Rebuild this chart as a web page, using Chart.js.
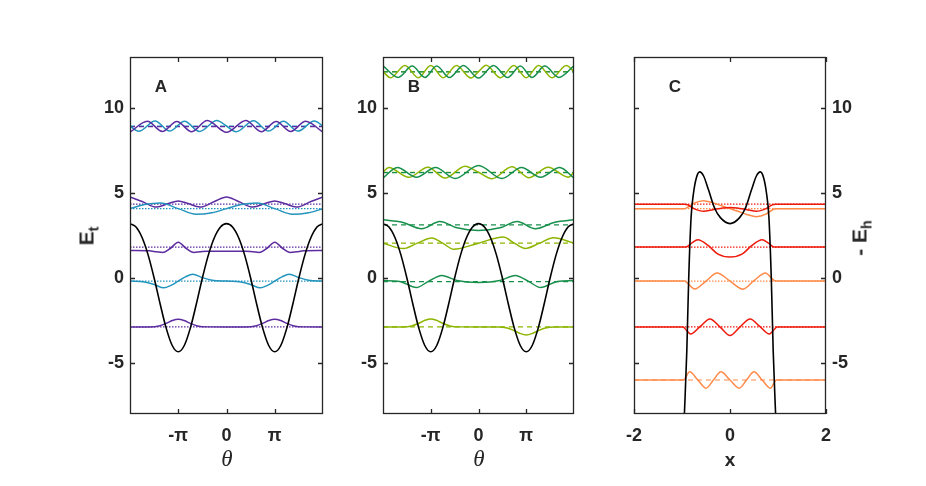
<!DOCTYPE html>
<html>
<head>
<meta charset="utf-8">
<script src="https://cdn.jsdelivr.net/npm/chart.js@4.4.1/dist/chart.umd.min.js"></script>
<style>
  body { margin: 0; background: #fff; width: 926px; height: 486px; position: relative; overflow: hidden;
         font-family: "Liberation Sans", Arial, sans-serif; color: #262626; }
  canvas { position: absolute; }
  .lbl { position: absolute; font-weight: bold; white-space: nowrap; transform: translate(-50%, -50%); }
  .rot { transform: translate(-50%, -50%) rotate(-90deg); }
  .th { font-family: "Liberation Serif", "DejaVu Serif", serif; font-style: italic; font-weight: normal; font-size: 23px; }
  sub { font-size: 68%; vertical-align: -0.35em; }
</style>
</head>
<body>
<canvas id="chartA" width="243" height="400" style="left:90px;top:47px"></canvas>
<canvas id="chartB" width="241" height="400" style="left:343px;top:47px"></canvas>
<canvas id="chartC" width="242" height="400" style="left:624px;top:47px"></canvas>

<div class="lbl" style="left:161px;top:87px;font-size:17px">A</div>
<div class="lbl" style="left:414px;top:87px;font-size:17px">B</div>
<div class="lbl" style="left:675px;top:87px;font-size:17px">C</div>
<div class="lbl rot" style="left:88px;top:236px;font-size:21px">E<sub>t</sub></div>
<div class="lbl rot" style="left:861px;top:238px;font-size:21px">- E<sub>h</sub></div>
<div class="lbl th" style="left:227px;top:459px">θ</div>
<div class="lbl th" style="left:479px;top:459px">θ</div>
<div class="lbl" style="left:730px;top:460px;font-size:19px">x</div>

<script>
// angle samples are in units of pi, energies in the axis units
const yTicks = [-5, 0, 5, 10];
const thetaTicks = [-1, 0, 1];
const thetaLabels = ['-π', '0', 'π'];
const xTicksC = [-2, 0, 2];

// potential (black) shared by panels A and B
const potT = [-2, -1.875, -1.75, -1.625, -1.5, -1.375, -1.25, -1.125, -1, -0.875, -0.75, -0.625, -0.5, -0.375, -0.25, -0.125,
              0, 0.125, 0.25, 0.375, 0.5, 0.625, 0.75, 0.875, 1, 1.125, 1.25, 1.375, 1.5, 1.625, 1.75, 1.875, 2];
const potE = [3.2, 3.0, 2.38, 1.36, 0.0, -1.53, -2.95, -3.97, -4.34, -3.97, -2.95, -1.53, 0.0, 1.36, 2.38, 3.0,
              3.2, 3.0, 2.38, 1.36, 0.0, -1.53, -2.95, -3.97, -4.34, -3.97, -2.95, -1.53, 0.0, 1.36, 2.38, 3.0, 3.2];

// panel A levels
const aLevels = [-2.88, -0.18, 1.82, 4.08, 4.34, 8.91, 8.94];

const a0T = [-2, -1.6, -1.4, -1.25, -1.12, -1, -0.88, -0.75, -0.6, -0.4, 0, 0.4, 0.6, 0.75, 0.88, 1, 1.12, 1.25, 1.4, 1.6, 2];
const a0E = [-2.88, -2.875, -2.82, -2.67, -2.5, -2.43, -2.5, -2.67, -2.82, -2.875, -2.88, -2.875, -2.82, -2.67, -2.5, -2.43, -2.5, -2.67, -2.82, -2.875, -2.88];

const a1T = [-2, -1.7, -1.5, -1.3, -1.15, -1, -0.85, -0.7, -0.5, -0.3, 0, 0.3, 0.5, 0.7, 0.85, 1, 1.15, 1.3, 1.5, 1.7, 2];
const a1E = [-0.18, -0.23, -0.38, -0.58, -0.43, -0.18, 0.07, 0.22, 0.02, -0.13, -0.18, -0.23, -0.38, -0.58, -0.43, -0.18, 0.07, 0.22, 0.02, -0.13, -0.18];

const a2T = [-2, -1.6, -1.45, -1.32, -1.16, -1, -0.84, -0.68, -0.55, -0.4, 0, 0.4, 0.55, 0.68, 0.84, 1, 1.16, 1.32, 1.45, 1.6, 2];
const a2E = [1.62, 1.6, 1.54, 1.5, 1.75, 2.1, 1.75, 1.5, 1.54, 1.58, 1.58, 1.58, 1.54, 1.5, 1.75, 2.1, 1.75, 1.5, 1.54, 1.6, 1.62];

const a3T = [-2, -1.7, -1.37, -1, -0.63, -0.3, 0, 0.3, 0.63, 1, 1.37, 1.7, 2];
const a3E = [4.08, 4.32, 4.41, 4.08, 3.75, 3.84, 4.08, 4.32, 4.41, 4.08, 3.75, 3.84, 4.08];

const a4T = [-2, -1.75, -1.45, -1.2, -1, -0.8, -0.55, -0.25, 0, 0.25, 0.55, 0.8, 1, 1.2, 1.45, 1.75, 2];
const a4E = [4.77, 4.5, 4.17, 4.38, 4.53, 4.38, 4.17, 4.5, 4.77, 4.5, 4.17, 4.38, 4.53, 4.38, 4.17, 4.5, 4.77];

const a5T = [-2, -1.64, -1.33, -1.03, -0.72, -0.4, 0, 0.4, 0.72, 1.03, 1.33, 1.64, 2];
const a5E = [8.58, 9.22, 8.62, 9.21, 8.6, 9.27, 8.57, 9.27, 8.6, 9.21, 8.62, 9.22, 8.58];

const a6T = [-2, -1.82, -1.48, -1.18, -0.87, -0.56, -0.2, 0, 0.2, 0.56, 0.87, 1.18, 1.48, 1.82, 2];
const a6E = [8.94, 8.63, 9.23, 8.64, 9.22, 8.62, 9.27, 8.94, 8.6, 9.25, 8.64, 9.22, 8.64, 9.23, 8.94];

// panel B levels
const bLevels = [-2.88, -0.21, 2.05, 3.12, 6.2, 6.22, 12.13, 12.14];

const b0T = [-2, -1.6, -1.4, -1.25, -1.12, -1, -0.88, -0.75, -0.6, -0.4, 0, 0.4, 0.6, 0.75, 0.88, 1, 1.12, 1.25, 1.4, 1.6, 2];
const b0E = [-2.88, -2.875, -2.82, -2.66, -2.49, -2.41, -2.49, -2.66, -2.82, -2.875, -2.88, -2.885, -2.94, -3.1, -3.27, -3.35, -3.27, -3.1, -2.94, -2.885, -2.88];

const b1T = [-2, -1.65, -1.3, -1.05, -0.77, -0.45, 0, 0.45, 0.77, 1.05, 1.3, 1.65, 2];
const b1E = [-0.15, -0.2, -0.56, -0.2, 0.15, -0.15, -0.26, -0.15, 0.15, -0.2, -0.56, -0.2, -0.15];

const b2T = [-2, -1.57, -1.28, -0.98, -0.75, -0.52, 0, 0.52, 0.75, 0.98, 1.28, 1.57, 2];
const b2E = [2.05, 1.73, 2.05, 2.36, 2.05, 1.69, 2.05, 2.41, 2.05, 1.74, 2.05, 2.37, 2.05];

const b3T = [-2, -1.6, -1.19, -0.81, -0.45, 0, 0.45, 0.81, 1.19, 1.6, 2];
const b3E = [3.42, 3.28, 2.9, 3.33, 2.95, 2.8, 2.95, 3.33, 2.9, 3.28, 3.42];

const b4T = [-2, -1.7, -1.3, -0.9, -0.49, 0, 0.49, 0.9, 1.3, 1.7, 2];
const b4E = [5.88, 6.5, 5.92, 6.5, 5.85, 6.62, 5.85, 6.5, 5.92, 6.5, 5.88];

const b5T = [-2, -1.88, -1.46, -1.06, -0.7, -0.28, 0, 0.28, 0.7, 1.06, 1.46, 1.88, 2];
const b5E = [6.22, 6.5, 5.92, 6.52, 5.88, 6.58, 6.22, 5.84, 6.55, 5.9, 6.52, 5.93, 6.22];

const b6T = [-2, -1.683, -1.388, -1.122, -0.876, -0.61, -0.315, 0, 0.315, 0.61, 0.876, 1.122, 1.388, 1.683, 2];
const b6E = [12.48, 11.8, 12.47, 11.8, 12.47, 11.79, 12.5, 11.76, 12.5, 11.79, 12.47, 11.8, 12.47, 11.8, 12.48];

const b7T = [-2, -1.84, -1.54, -1.26, -1.0, -0.74, -0.46, -0.16, 0, 0.16, 0.46, 0.74, 1.0, 1.26, 1.54, 1.84, 2];
const b7E = [12.14, 11.78, 12.5, 11.78, 12.5, 11.78, 12.5, 11.76, 12.14, 12.52, 11.78, 12.5, 11.78, 12.5, 11.78, 12.5, 12.14];

// panel C
const cPotX = [-1.0, -0.95, -0.9, -0.86, -0.81, -0.76, -0.7, -0.63, -0.55, -0.45, -0.32, -0.2, 0,
               0.2, 0.32, 0.45, 0.55, 0.63, 0.7, 0.76, 0.81, 0.86, 0.9, 0.95, 1.0];
const cPotE = [-11.5, -8, -4.3, 0, 3.6, 5.0, 5.9, 6.24, 6.0, 5.2, 4.1, 3.55, 3.2,
               3.55, 4.1, 5.2, 6.0, 6.24, 5.9, 5.0, 3.6, 0, -4.3, -8, -11.5];

const cLevels = [4.34, 4.08, 1.82, -0.18, -2.88, -6.0];

const c0X = [-2, -0.95, -0.88, -0.75, -0.55, -0.35, -0.15, 0, 0.15, 0.35, 0.55, 0.75, 0.88, 0.95, 2];
const c0E = [4.34, 4.34, 4.3, 4.08, 3.92, 4.02, 4.12, 4.14, 4.12, 4.02, 3.92, 4.08, 4.3, 4.34, 4.34];

const c1X = [-2, -0.95, -0.88, -0.75, -0.55, -0.35, -0.15, 0, 0.15, 0.35, 0.55, 0.75, 0.88, 0.95, 2];
const c1E = [4.08, 4.08, 4.16, 4.4, 4.55, 4.42, 4.22, 4.08, 3.94, 3.74, 3.61, 3.76, 4.0, 4.08, 4.08];

const c2X = [-2, -0.92, -0.8, -0.67, -0.45, -0.25, 0, 0.25, 0.45, 0.67, 0.8, 0.92, 2];
const c2E = [1.82, 1.82, 2.05, 2.25, 1.9, 1.4, 1.23, 1.4, 1.9, 2.25, 2.05, 1.82, 1.82];

const c3X = [-2, -0.95, -0.88, -0.74, -0.5, -0.27, 0, 0.27, 0.5, 0.74, 0.88, 0.95, 2];
const c3E = [-0.18, -0.18, -0.32, -0.65, -0.18, 0.3, -0.18, -0.66, -0.16, 0.29, -0.05, -0.18, -0.18];

const c4X = [-2, -0.98, -0.9, -0.82, -0.62, -0.42, -0.2, 0, 0.2, 0.42, 0.62, 0.82, 0.9, 0.98, 2];
const c4E = [-2.88, -2.88, -3.1, -3.3, -2.85, -2.41, -2.9, -3.38, -2.9, -2.41, -2.85, -3.3, -3.1, -2.88, -2.88];

const c5X = [-2, -0.97, -0.84, -0.67, -0.5, -0.345, -0.19, 0, 0.19, 0.345, 0.5, 0.67, 0.84, 0.97, 2];
const c5E = [-6.0, -6.0, -5.52, -6.0, -6.48, -6.0, -5.52, -6.0, -6.48, -6.0, -5.52, -6.0, -6.48, -6.0, -6.0];

const PURPLE = '#5c2ca0', CYAN = '#2394bd', GREEN = '#17904c', LIME = '#8db500', RED = '#ee1a0c', ORANGE = '#ff8a48';
const DOT = [1.5, 1.5], DASH = [5, 4];

function curve(xs, ys, color, w) {
  return { data: xs.map((v, i) => ({ x: v, y: ys[i] })), borderColor: color, borderWidth: w || 1.5,
           pointRadius: 0, cubicInterpolationMode: 'monotone', fill: false };
}
function level(e, color, dash, lo, hi) {
  return { data: [{ x: lo, y: e }, { x: hi, y: e }], borderColor: color, borderWidth: 1.2,
           borderDash: dash, pointRadius: 0, fill: false };
}

// box with inward tick marks on all four sides
const frame = {
  id: 'frame',
  afterDatasetsDraw(chart) {
    const { ctx, chartArea: a, scales: { x, y } } = chart;
    const L = 5;
    ctx.save();
    ctx.strokeStyle = '#262626';
    ctx.lineWidth = 1.3;
    ctx.strokeRect(a.left + 0.5, a.top + 0.5, a.width - 1, a.height - 1);
    ctx.beginPath();
    x.ticks.forEach(t => {
      const p = Math.round(x.getPixelForValue(t.value)) + 0.5;
      ctx.moveTo(p, a.bottom); ctx.lineTo(p, a.bottom - L);
      ctx.moveTo(p, a.top); ctx.lineTo(p, a.top + L);
    });
    y.ticks.forEach(t => {
      const p = Math.round(y.getPixelForValue(t.value)) + 0.5;
      ctx.moveTo(a.left, p); ctx.lineTo(a.left + L, p);
      ctx.moveTo(a.right, p); ctx.lineTo(a.right - L, p);
    });
    ctx.stroke();
    ctx.restore();
  }
};

const tickFont = { family: '"Liberation Sans", Arial, sans-serif', size: 18, weight: 'bold' };

function makePanel(id, datasets, xCfg, yRight) {
  return new Chart(document.getElementById(id), {
    type: 'line',
    data: { datasets },
    options: {
      responsive: false,
      animation: false,
      events: [],
      layout: { padding: yRight ? { top: 10, left: 10, right: 0, bottom: 0 } : { top: 10, right: 10, left: 0, bottom: 0 } },
      plugins: { legend: { display: false }, tooltip: { enabled: false } },
      scales: {
        x: {
          type: 'linear', min: xCfg.min, max: xCfg.max,
          grid: { display: false, drawTicks: false }, border: { display: false },
          afterBuildTicks: s => { s.ticks = xCfg.ticks.map(v => ({ value: v })); },
          afterFit: s => { s.height = 33; s.paddingLeft = 0; s.paddingRight = 0; },
          ticks: { color: '#262626', font: tickFont, padding: 11, maxRotation: 0,
                   callback: v => xCfg.labels ? xCfg.labels[xCfg.ticks.indexOf(v)] : String(v) }
        },
        y: {
          type: 'linear', min: -8, max: 13, position: yRight ? 'right' : 'left',
          grid: { display: false, drawTicks: false }, border: { display: false },
          afterBuildTicks: s => { s.ticks = yTicks.map(v => ({ value: v })); },
          afterFit: s => { s.width = 40; s.paddingTop = 0; s.paddingBottom = 0; },
          ticks: { color: '#262626', font: tickFont, padding: 6 }
        }
      }
    },
    plugins: [frame]
  });
}

const thetaAxis = { min: -2, max: 2, ticks: thetaTicks, labels: thetaLabels };

makePanel('chartA', [
  curve(potT, potE, '#000', 1.6),
  curve(a0T, a0E, PURPLE), curve(a1T, a1E, CYAN), curve(a2T, a2E, PURPLE), curve(a3T, a3E, CYAN),
  curve(a4T, a4E, PURPLE), curve(a5T, a5E, PURPLE), curve(a6T, a6E, CYAN),
  level(aLevels[0], PURPLE, DOT, -2, 2), level(aLevels[1], CYAN, DOT, -2, 2), level(aLevels[2], PURPLE, DOT, -2, 2),
  level(aLevels[3], CYAN, DOT, -2, 2), level(aLevels[4], PURPLE, DOT, -2, 2),
  level(aLevels[5], PURPLE, DASH, -2, 2), level(aLevels[6], CYAN, DASH, -2, 2)
], thetaAxis, false);

makePanel('chartB', [
  curve(potT, potE, '#000', 1.6),
  curve(b0T, b0E, LIME), curve(b1T, b1E, GREEN), curve(b2T, b2E, LIME), curve(b3T, b3E, GREEN),
  curve(b4T, b4E, GREEN), curve(b5T, b5E, LIME), curve(b6T, b6E, GREEN), curve(b7T, b7E, LIME),
  level(bLevels[0], LIME, DASH, -2, 2), level(bLevels[1], GREEN, DASH, -2, 2), level(bLevels[2], LIME, DASH, -2, 2),
  level(bLevels[3], GREEN, DASH, -2, 2), level(bLevels[4], GREEN, DASH, -2, 2), level(bLevels[5], LIME, DASH, -2, 2),
  level(bLevels[6], GREEN, DASH, -2, 2), level(bLevels[7], LIME, DASH, -2, 2)
], thetaAxis, false);

makePanel('chartC', [
  curve(cPotX, cPotE, '#000', 1.6),
  curve(c0X, c0E, RED), curve(c1X, c1E, ORANGE), curve(c2X, c2E, RED),
  curve(c3X, c3E, ORANGE), curve(c4X, c4E, RED), curve(c5X, c5E, ORANGE),
  level(cLevels[0], RED, DOT, -2, 2), level(cLevels[1], ORANGE, DOT, -2, 2), level(cLevels[2], RED, DOT, -2, 2),
  level(cLevels[3], ORANGE, DOT, -2, 2), level(cLevels[4], RED, DOT, -2, 2), level(cLevels[5], ORANGE, DASH, -2, 2)
], { min: -2, max: 2, ticks: xTicksC }, true);
</script>
</body>
</html>
